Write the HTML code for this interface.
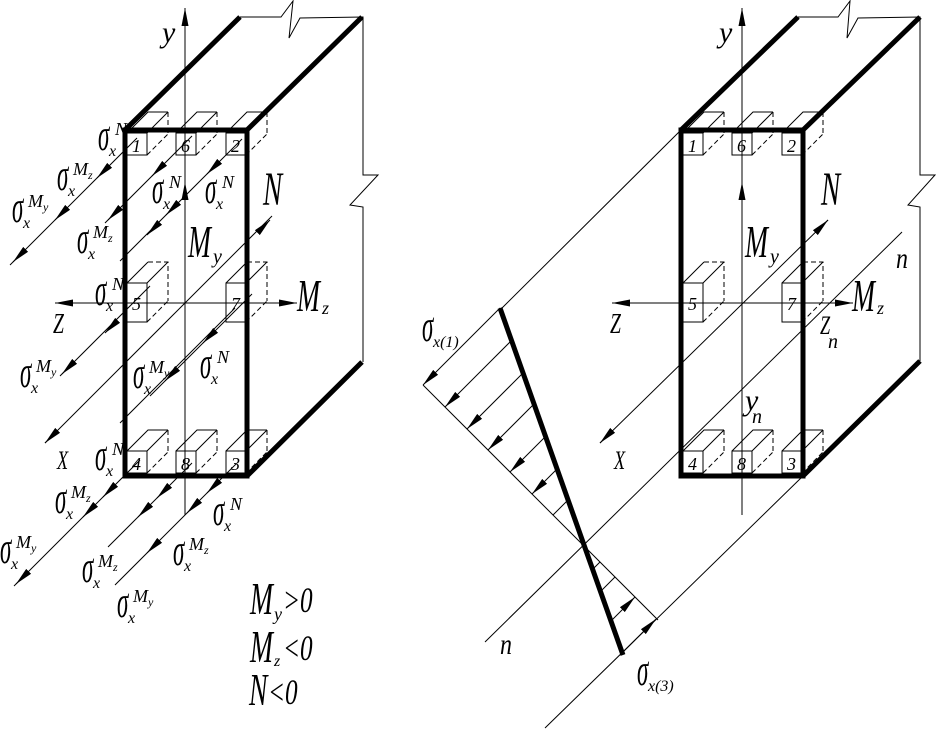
<!DOCTYPE html>
<html><head><meta charset="utf-8"><style>
html,body{margin:0;padding:0;background:#fff;}
svg{display:block;}
text{font-family:"Liberation Serif",serif;font-style:italic;fill:#000;}
.s{font-size:46px;}
.sb{font-size:16px;}
.sp{font-size:18px;}
.sp2{font-size:12px;}
.num{font-size:18px;}
</style></head><body>
<svg width="936" height="729" viewBox="0 0 936 729" xmlns="http://www.w3.org/2000/svg">
<defs>
<marker id="a" viewBox="0 0 18 7" refX="18" refY="3.5" markerUnits="userSpaceOnUse" markerWidth="18" markerHeight="7" orient="auto"><path d="M0,0 L18,3.5 L0,7 z" fill="#000"/></marker>
<g id="bs" fill="none" stroke="#000" stroke-width="1">
<rect x="0" y="0" width="20" height="22"/>
<path d="M0,0 L21,-21 L41,-21 M20,0 L41,-21"/>
<path d="M41,-21 L41,1 M20,22 L41,1" stroke-dasharray="5,3"/>
</g>
<g id="bt" fill="none" stroke="#000" stroke-width="1">
<rect x="0" y="0" width="20" height="39"/>
<path d="M0,0 L21,-21 M20,0 L41,-21"/>
<path d="M21,-21 L41,-21 L41,18 M20,39 L41,18" stroke-dasharray="5,3"/>
</g>
</defs>

<!-- ============ LEFT FIGURE ============ -->
<g stroke="#000" fill="none">
<path d="M240,17 L281,17 L293,1 L289,38 L300,18 L363,17 L363,175 L378,175 L350,205 L363,207 L363,362" stroke-width="1"/>
<path d="M125,130 L240,17 M247,130 L362,17 M247,476 L362,362" stroke-width="5"/>
<rect x="125" y="130" width="122" height="346" stroke-width="5"/>
<line x1="185" y1="515" x2="185" y2="8" stroke-width="1" marker-end="url(#a)"/>
<line x1="185" y1="215" x2="185" y2="182" stroke-width="1" marker-end="url(#a)"/>
<line x1="240" y1="303" x2="55" y2="303" stroke-width="1" marker-end="url(#a)"/>
<line x1="200" y1="303" x2="297" y2="303" stroke-width="1" marker-end="url(#a)"/>
<g stroke-width="1">
<line x1="137" y1="138" x2="10" y2="265"/>
<line x1="192" y1="136" x2="105" y2="223"/>
<line x1="242" y1="139" x2="120" y2="261"/>
<line x1="272" y1="216" x2="45" y2="443"/>
<line x1="150" y1="286" x2="60" y2="376"/>
<line x1="252" y1="294" x2="150" y2="396"/>
<line x1="235" y1="308" x2="120" y2="423"/>
<line x1="140" y1="460" x2="14" y2="586"/>
<line x1="192" y1="463" x2="108" y2="547"/>
<line x1="236" y1="464" x2="115" y2="585"/>
</g>
<g stroke-width="1">
<line x1="105" y1="170" x2="97" y2="178" marker-end="url(#a)"/>
<line x1="63" y1="212" x2="55" y2="220" marker-end="url(#a)"/>
<line x1="21" y1="254" x2="13" y2="262" marker-end="url(#a)"/>
<line x1="160" y1="168" x2="152" y2="176" marker-end="url(#a)"/>
<line x1="116" y1="212" x2="108" y2="220" marker-end="url(#a)"/>
<line x1="215" y1="166" x2="207" y2="174" marker-end="url(#a)"/>
<line x1="174" y1="207" x2="166" y2="215" marker-end="url(#a)"/>
<line x1="155" y1="227" x2="147" y2="235" marker-end="url(#a)"/>
<line x1="262" y1="228" x2="270" y2="220" marker-end="url(#a)"/>
<line x1="53" y1="435" x2="45" y2="443" marker-end="url(#a)"/>
<line x1="113" y1="325" x2="105" y2="333" marker-end="url(#a)"/>
<line x1="70" y1="366" x2="62" y2="374" marker-end="url(#a)"/>
<line x1="211" y1="335" x2="203" y2="343" marker-end="url(#a)"/>
<line x1="173" y1="373" x2="165" y2="381" marker-end="url(#a)"/>
<line x1="111" y1="489" x2="103" y2="497" marker-end="url(#a)"/>
<line x1="91" y1="509" x2="83" y2="517" marker-end="url(#a)"/>
<line x1="24" y1="576" x2="16" y2="584" marker-end="url(#a)"/>
<line x1="165" y1="490" x2="157" y2="498" marker-end="url(#a)"/>
<line x1="146" y1="509" x2="138" y2="517" marker-end="url(#a)"/>
<line x1="215" y1="485" x2="207" y2="493" marker-end="url(#a)"/>
<line x1="195" y1="505" x2="187" y2="513" marker-end="url(#a)"/>
<line x1="155" y1="545" x2="147" y2="553" marker-end="url(#a)"/>
</g>
</g>
<use href="#bs" x="127" y="133"/><use href="#bs" x="176" y="133"/><use href="#bs" x="226" y="133"/>
<use href="#bt" x="127" y="283"/><use href="#bt" x="226" y="283"/>
<use href="#bs" x="127" y="451"/><use href="#bs" x="176" y="451"/><use href="#bs" x="226" y="451"/>
<text x="132" y="152" class="num">1</text><text x="181" y="152" class="num">6</text><text x="231" y="152" class="num">2</text>
<text x="132" y="310" class="num">5</text><text x="231" y="310" class="num">7</text>
<text x="132" y="470" class="num">4</text><text x="181" y="470" class="num">8</text><text x="231" y="470" class="num">3</text>

<g transform="translate(98,150)"><text class="s" transform="scale(0.5,1)">σ</text><text class="sb" x="11" y="6">x</text><text class="sp" x="17" y="-15">N</text></g>
<g transform="translate(57,190)"><text class="s" transform="scale(0.5,1)">σ</text><text class="sb" x="11" y="6">x</text><text class="sp" x="16" y="-15">M</text><text class="sp2" x="31" y="-11">z</text></g>
<g transform="translate(12,222)"><text class="s" transform="scale(0.5,1)">σ</text><text class="sb" x="11" y="6">x</text><text class="sp" x="16" y="-15">M</text><text class="sp2" x="31" y="-11">y</text></g>
<g transform="translate(152,203)"><text class="s" transform="scale(0.5,1)">σ</text><text class="sb" x="11" y="6">x</text><text class="sp" x="17" y="-15">N</text></g>
<g transform="translate(205,203)"><text class="s" transform="scale(0.5,1)">σ</text><text class="sb" x="11" y="6">x</text><text class="sp" x="17" y="-15">N</text></g>
<g transform="translate(77,253)"><text class="s" transform="scale(0.5,1)">σ</text><text class="sb" x="11" y="6">x</text><text class="sp" x="16" y="-15">M</text><text class="sp2" x="31" y="-11">z</text></g>
<g transform="translate(95,305)"><text class="s" transform="scale(0.5,1)">σ</text><text class="sb" x="11" y="6">x</text><text class="sp" x="17" y="-15">N</text></g>
<g transform="translate(20,387)"><text class="s" transform="scale(0.5,1)">σ</text><text class="sb" x="11" y="6">x</text><text class="sp" x="16" y="-15">M</text><text class="sp2" x="31" y="-11">y</text></g>
<g transform="translate(133,388)"><text class="s" transform="scale(0.5,1)">σ</text><text class="sb" x="11" y="6">x</text><text class="sp" x="16" y="-15">M</text><text class="sp2" x="31" y="-11">y</text></g>
<g transform="translate(200,378)"><text class="s" transform="scale(0.5,1)">σ</text><text class="sb" x="11" y="6">x</text><text class="sp" x="17" y="-15">N</text></g>
<g transform="translate(95,470)"><text class="s" transform="scale(0.5,1)">σ</text><text class="sb" x="11" y="6">x</text><text class="sp" x="17" y="-15">N</text></g>
<g transform="translate(55,513)"><text class="s" transform="scale(0.5,1)">σ</text><text class="sb" x="11" y="6">x</text><text class="sp" x="16" y="-15">M</text><text class="sp2" x="31" y="-11">z</text></g>
<g transform="translate(0,563)"><text class="s" transform="scale(0.5,1)">σ</text><text class="sb" x="11" y="6">x</text><text class="sp" x="16" y="-15">M</text><text class="sp2" x="31" y="-11">y</text></g>
<g transform="translate(213,525)"><text class="s" transform="scale(0.5,1)">σ</text><text class="sb" x="11" y="6">x</text><text class="sp" x="17" y="-15">N</text></g>
<g transform="translate(82,582)"><text class="s" transform="scale(0.5,1)">σ</text><text class="sb" x="11" y="6">x</text><text class="sp" x="16" y="-15">M</text><text class="sp2" x="31" y="-11">z</text></g>
<g transform="translate(173,565)"><text class="s" transform="scale(0.5,1)">σ</text><text class="sb" x="11" y="6">x</text><text class="sp" x="16" y="-15">M</text><text class="sp2" x="31" y="-11">z</text></g>
<g transform="translate(117,617)"><text class="s" transform="scale(0.5,1)">σ</text><text class="sb" x="11" y="6">x</text><text class="sp" x="16" y="-15">M</text><text class="sp2" x="31" y="-11">y</text></g>

<text x="162" y="42" font-size="30">y</text>
<text transform="translate(263,205) scale(0.6,1)" font-size="48">N</text>
<text transform="translate(188,257) scale(0.6,1)" font-size="46">M</text><text x="213" y="263" font-size="20">y</text>
<text transform="translate(297,311) scale(0.6,1)" font-size="46">M</text><text x="322" y="314" font-size="18">z</text>
<text transform="translate(53,333) scale(0.7,1)" font-size="28">Z</text>
<text transform="translate(57,469) scale(0.7,1)" font-size="26">X</text>
<text transform="translate(250,614) scale(0.6,1)" font-size="46">M</text><text x="274" y="620" font-size="18">y</text><text transform="translate(283,612) scale(0.7,1)" font-size="36">&gt;0</text>
<text transform="translate(250,662) scale(0.6,1)" font-size="46">M</text><text x="274" y="666" font-size="16">z</text><text transform="translate(283,660) scale(0.7,1)" font-size="36">&lt;0</text>
<text transform="translate(249,705) scale(0.6,1)" font-size="46">N</text><text transform="translate(268,704) scale(0.7,1)" font-size="36">&lt;0</text>

<!-- ============ RIGHT FIGURE ============ -->
<g stroke="#000" fill="none">
<path d="M798,17 L838,17 L850,1 L847,38 L858,18 L920,17 L920,175 L935,175 L908,205 L920,207 L920,361" stroke-width="1"/>
<path d="M681,130 L798,17 M803,130 L920,17 M803,476 L920,361" stroke-width="5"/>
<rect x="681" y="130" width="122" height="346" stroke-width="5"/>
<line x1="742" y1="515" x2="742" y2="8" stroke-width="1" marker-end="url(#a)"/>
<line x1="742" y1="215" x2="742" y2="182" stroke-width="1" marker-end="url(#a)"/>
<line x1="790" y1="303" x2="612" y2="303" stroke-width="1" marker-end="url(#a)"/>
<line x1="760" y1="303" x2="853" y2="303" stroke-width="1" marker-end="url(#a)"/>
<g stroke-width="1">
<line x1="500" y1="310" x2="681" y2="130"/>
<line x1="545" y1="728" x2="803" y2="476"/>
<line x1="485" y1="642" x2="902" y2="232"/>
<line x1="600" y1="443" x2="828" y2="220"/>
<line x1="423" y1="385" x2="658" y2="620"/>
</g>
<line x1="820" y1="228" x2="828" y2="220" stroke-width="1" marker-end="url(#a)"/>
<line x1="608" y1="435" x2="600" y2="443" stroke-width="1" marker-end="url(#a)"/>
<line x1="500" y1="308" x2="623" y2="655" stroke-width="5"/>
<g stroke-width="1">
<line x1="500" y1="308" x2="423" y2="385" marker-end="url(#a)"/>
<line x1="511.5" y1="340.5" x2="445" y2="407" marker-end="url(#a)"/>
<line x1="523" y1="373" x2="467" y2="429" marker-end="url(#a)"/>
<line x1="534" y1="404" x2="488" y2="450" marker-end="url(#a)"/>
<line x1="545.5" y1="436.5" x2="510" y2="472" marker-end="url(#a)"/>
<line x1="557" y1="469" x2="532" y2="494" marker-end="url(#a)"/>
<line x1="568" y1="500" x2="553" y2="515"/>
<line x1="592.6" y1="569.4" x2="600" y2="562"/>
<line x1="600.5" y1="591.5" x2="615" y2="577"/>
<line x1="611" y1="621" x2="635" y2="597" marker-end="url(#a)"/>
<line x1="622" y1="653" x2="656" y2="619" marker-end="url(#a)"/>
</g>
</g>
<use href="#bs" x="683" y="133"/><use href="#bs" x="732" y="133"/><use href="#bs" x="782" y="133"/>
<use href="#bt" x="683" y="283"/><use href="#bt" x="782" y="283"/>
<use href="#bs" x="683" y="451"/><use href="#bs" x="732" y="451"/><use href="#bs" x="782" y="451"/>
<text x="688" y="152" class="num">1</text><text x="737" y="152" class="num">6</text><text x="787" y="152" class="num">2</text>
<text x="688" y="310" class="num">5</text><text x="787" y="310" class="num">7</text>
<text x="688" y="470" class="num">4</text><text x="737" y="470" class="num">8</text><text x="787" y="470" class="num">3</text>

<text x="719" y="42" font-size="30">y</text>
<text transform="translate(821,205) scale(0.6,1)" font-size="48">N</text>
<text transform="translate(745,257) scale(0.6,1)" font-size="46">M</text><text x="770" y="263" font-size="20">y</text>
<text transform="translate(852,311) scale(0.6,1)" font-size="46">M</text><text x="877" y="314" font-size="18">z</text>
<text transform="translate(610,333) scale(0.7,1)" font-size="28">Z</text>
<text transform="translate(614,469) scale(0.7,1)" font-size="26">X</text>
<text transform="translate(896,268) scale(0.8,1)" font-size="30">n</text>
<text transform="translate(820,334) scale(0.7,1)" font-size="26">Z</text><text x="828" y="348" font-size="20">n</text>
<text x="745" y="410" font-size="30">y</text><text x="752" y="423" font-size="20">n</text>
<text transform="translate(500,654) scale(0.8,1)" font-size="30">n</text>
<g transform="translate(422,341)"><text class="s" transform="scale(0.5,1)">σ</text><text class="sb" x="11" y="6">x(1)</text></g>
<g transform="translate(637,685)"><text class="s" transform="scale(0.5,1)">σ</text><text class="sb" x="11" y="6">x(3)</text></g>
</svg>
</body></html>
